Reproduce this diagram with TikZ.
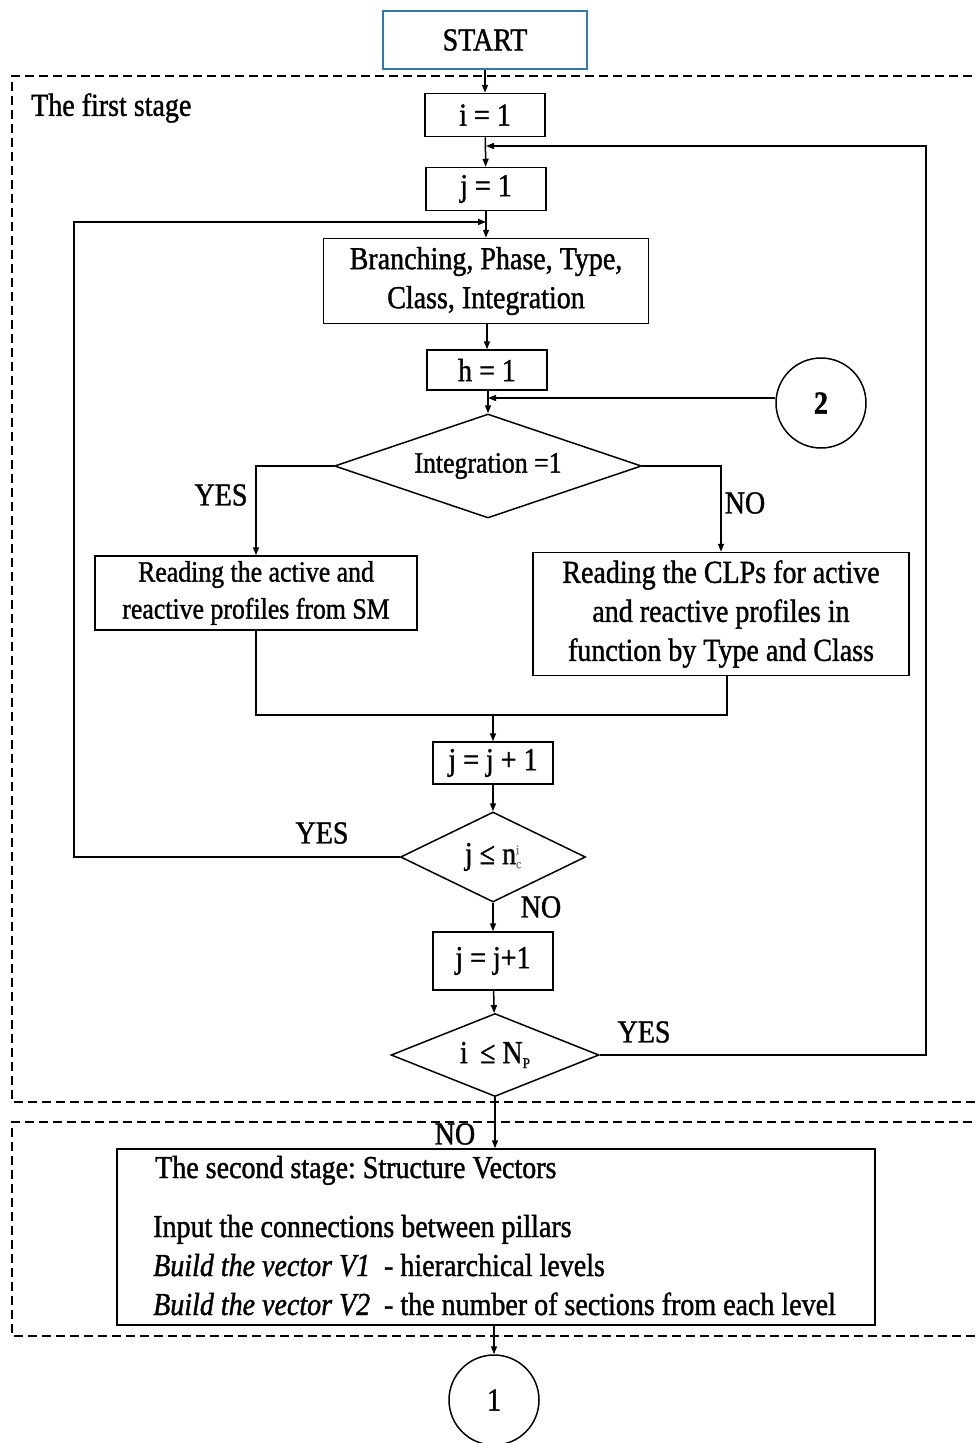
\documentclass[tikz,border=0pt]{standalone}
\usepackage{fontspec}
\setmainfont[FakeStretch=0.875,FakeBold=1.2]{Liberation Serif}
\usetikzlibrary{arrows.meta,shapes.geometric}

\definecolor{startblue}{RGB}{46,122,180}
\definecolor{idxgray}{RGB}{120,120,120}
\newcommand\fsmain{\fontsize{32}{39}\selectfont}
\newcommand\fssmall{\fontsize{29.5}{37}\selectfont}
\newcommand\fstiny{\fontsize{13}{13}\selectfont}
\frenchspacing

\begin{document}
\begin{tikzpicture}[x=1pt,y=-1pt,
  every node/.style={font=\fsmain},
  stepbox/.style={draw, line width=1.5pt, inner sep=0pt, align=center},
  decision/.style={draw, diamond, line width=1.5pt, inner sep=0pt, aspect=2},
  connector/.style={draw, circle, line width=1.5pt, inner sep=0pt, minimum size=90pt},
  flow/.style={line width=1.5pt},
  arr/.style={flow, -{Triangle[length=8pt,width=6pt]}},
  stagebox/.style={line width=1.4pt, dash pattern=on 9pt off 5pt},
  lbl/.style={inner sep=0pt}
]
\useasboundingbox (0,0) rectangle (976,1443);
\clip (0,0) rectangle (976,1443);

% stage frames
\draw[stagebox] (1000,76) -- (12,76) -- (12,1102) -- (1000,1102);
\draw[stagebox] (1000,1122) -- (12,1122) -- (12,1336) -- (1000,1336);
\node[lbl, anchor=west] (stage1) at (31,108) {The first stage};

% first stage
\node[stepbox, draw=startblue, minimum width=204pt, minimum height=58pt] (start) at (485,40) {START};
\node[stepbox, minimum width=120pt, minimum height=43pt] (i1) at (485,115) {i = 1};
\node[stepbox, minimum width=120pt, minimum height=43pt] (j1) at (486,189) {j = 1};
\node[stepbox, minimum width=325pt, minimum height=85pt] (branch) at (486,281)
  {Branching, Phase, Type,\\Class, Integration};
\node[stepbox, minimum width=120pt, minimum height=40pt] (h1) at (487,370) {h = 1};
\node[decision, minimum width=307pt, minimum height=104pt, font=\fssmall] (integ) at (488,466) {Integration =1};
\node[connector] (c2) at (821,403) {\bfseries 2};

\node[stepbox, minimum width=322pt, minimum height=74pt, font=\fssmall] (rl) at (256,593)
  {Reading the active and\\reactive profiles from SM};
\node[stepbox, minimum width=376pt, minimum height=123pt] (rr) at (721,614)
  {Reading the CLPs for active\\and reactive profiles in\\function by Type and Class};

\node[stepbox, minimum width=120pt, minimum height=42pt] (jj1) at (493,763) {j = j + 1};
\node[decision, minimum width=185pt, minimum height=90pt] (jn) at (493,857)
  {j ≤ n\rlap{\raisebox{10pt}{\fstiny\color{idxgray}i}}\raisebox{-4pt}{\fstiny\color{idxgray}c}};
\node[stepbox, minimum width=120pt, minimum height=58pt] (jj2) at (493,961) {j = j+1};
\node[decision, minimum width=208pt, minimum height=83pt] (inp) at (495,1055)
  {i \,≤ N\raisebox{-5pt}{\fontsize{15}{15}\selectfont P}};

% second stage
\node[stepbox, minimum width=758pt, minimum height=176pt] (stage2) at (496,1237) {};
\node[lbl, anchor=base west] (s2a) at (155,1178) {The second stage: Structure Vectors};
\node[lbl, anchor=base west] (s2b) at (153,1237) {Input the connections between pillars};
\node[lbl, anchor=base west] (s2c) at (153,1276) {\textit{Build the vector V1}\ \ - hierarchical levels};
\node[lbl, anchor=base west] (s2d) at (153,1315) {\textit{Build the vector V2}\ \ - the number of sections from each level};
\node[connector] (c1) at (494,1400) {1};

% junction points
\coordinate (fb) at (486,146);
\coordinate (lp) at (486,222);
\coordinate (m2) at (488,398);
\coordinate (mg) at (493,715);

% connectors
\draw[arr] (start) -- (i1);
\draw[arr] (i1) -- (j1);
\draw[arr] (j1.south) -- (branch.north);
\draw[arr] (branch.south -| h1) -- (h1.north);
\draw[arr] (h1.south -| integ) -- (integ.north);
\draw[arr] (c2.west |- m2) -- (m2);

\draw[arr] (integ.west) -| (rl.north);
\draw[arr] (integ.east) -| (rr.north);
\draw[flow] (rl.south) |- (mg) -| ([xshift=6pt]rr.south);
\draw[arr] (mg) -- (jj1.north);
\draw[arr] (jj1) -- (jn);
\draw[arr] (jn) -- (jj2);
\draw[arr] (jj2) -- (inp);
\draw[arr] (jn.west) -- (74,857) |- (lp);
\draw[arr] (inp.east) -- (926,1055) |- (fb);
\draw[arr] (inp.south) -- (inp.south |- stage2.north);
\draw[arr] (stage2.south -| c1) -- (c1.north);

% branch labels
\node[lbl] (yes1) at (221,495) {YES};
\node[lbl] (no1) at (745,503) {NO};
\node[lbl] (yes2) at (322,833) {YES};
\node[lbl] (no2) at (541,907) {NO};
\node[lbl] (yes3) at (644,1032) {YES};
\node[lbl] (no3) at (455,1134) {NO};
\end{tikzpicture}
\end{document}
